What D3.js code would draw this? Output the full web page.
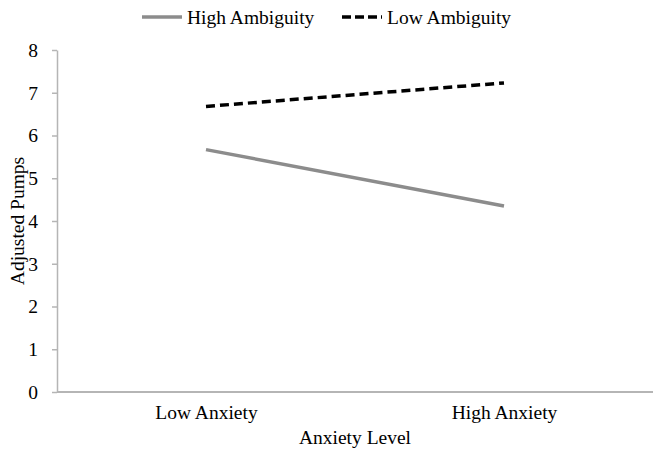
<script src="https://d3js.org/d3.v7.min.js"></script>

<html>
<body style="margin:0;background:#fff">
<div id="myPlot"></div>
</body>
<script>

    const width = 665;
    const height = 451;
    const margin = {top: 50, right: 12, bottom: 59, left: 57};

    // data
    const categories = ['Low Anxiety', 'High Anxiety'];
    const highAmbiguity = [5.67, 4.35];
    const lowAmbiguity = [6.68, 7.23];
    const yTicks = [0, 1, 2, 3, 4, 5, 6, 7, 8];

    const series = [
        {name: 'High Ambiguity', values: highAmbiguity, color: '#8c8c8c', dash: null, w: 3.5},
        {name: 'Low Ambiguity', values: lowAmbiguity, color: '#000', dash: '9,5', w: 3.5},
    ];

    const font = '"Liberation Serif", "Times New Roman", serif';
    const fs = '19.5px';

    const svg = d3.select('#myPlot').append('svg')
        .attr('width', width)
        .attr('height', height)
        .style('font-family', font);

    const x = d3.scalePoint()
        .domain(categories)
        .range([margin.left, width - margin.right])
        .padding(0.5);

    const y = d3.scaleLinear()
        .domain([0, 8])
        .range([height - margin.bottom, margin.top]);

    // Y axis
    const yAxis = svg.append('g')
        .attr('transform', `translate(${margin.left},0)`)
        .call(d3.axisLeft(y).tickValues(yTicks).tickSize(5).tickPadding(14).tickSizeOuter(0));
    yAxis.select('.domain').attr('stroke', '#b5b5b5').attr('stroke-width', 1.5);
    yAxis.selectAll('.tick line').attr('stroke', '#b5b5b5').attr('stroke-width', 1.5);
    yAxis.selectAll('.tick text').style('font-size', fs).attr('fill', '#000').attr('font-family', font);

    // X axis
    const xAxis = svg.append('g')
        .attr('transform', `translate(0,${height - margin.bottom})`)
        .call(d3.axisBottom(x).tickSize(0).tickPadding(13).tickSizeOuter(0));
    xAxis.select('.domain')
        .attr('d', `M${margin.left},0H${width - margin.right}`)
        .attr('stroke', '#b5b5b5').attr('stroke-width', 2);
    xAxis.selectAll('.tick text').style('font-size', fs).attr('fill', '#000').attr('font-family', font);

    // axis titles
    svg.append('text')
        .attr('x', (margin.left + width - margin.right) / 2)
        .attr('y', 444)
        .attr('text-anchor', 'middle')
        .style('font-size', fs)
        .text('Anxiety Level');

    svg.append('text')
        .attr('transform', `translate(24,${(margin.top + height - margin.bottom) / 2}) rotate(-90)`)
        .attr('text-anchor', 'middle')
        .style('font-size', fs)
        .text('Adjusted Pumps');

    // lines
    const line = d3.line()
        .x((d, i) => x(categories[i]))
        .y(d => y(d));

    series.forEach(s => {
        svg.append('path')
            .datum(s.values)
            .attr('d', line)
            .attr('fill', 'none')
            .attr('stroke', s.color)
            .attr('stroke-width', s.w)
            .attr('stroke-dasharray', s.dash);
    });

    // legend
    const legendItems = [
        {x: 142, tx: 187},
        {x: 342, tx: 387},
    ];
    series.forEach((s, i) => {
        const g = svg.append('g');
        g.append('line')
            .attr('x1', legendItems[i].x).attr('x2', legendItems[i].x + 40)
            .attr('y1', 17).attr('y2', 17)
            .attr('stroke', s.color)
            .attr('stroke-width', s.w)
            .attr('stroke-dasharray', s.dash ? '9,4' : null);
        g.append('text')
            .attr('x', legendItems[i].tx)
            .attr('y', 24)
            .style('font-size', fs)
            .text(s.name);
    });
</script>
</html>
